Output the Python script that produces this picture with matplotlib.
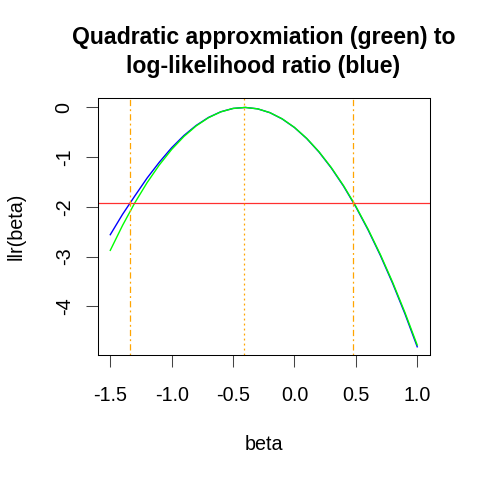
import matplotlib
matplotlib.use("Agg")
import matplotlib.pyplot as plt

plt.rcParams["font.family"] = ["Liberation Sans", "DejaVu Sans"]

# values
beta = [-1.5, -1.4, -1.3, -1.2, -1.1, -1.0, -0.9, -0.8, -0.7, -0.6, -0.5, -0.4, -0.3,
        -0.2, -0.1, 0.0, 0.1, 0.2, 0.3, 0.4, 0.5, 0.6, 0.7, 0.8, 0.9, 1.0]
llr = [-2.56, -2.15, -1.78, -1.42, -1.10, -0.81, -0.564, -0.361, -0.201, -0.087, -0.020,
       0.000, -0.028, -0.105, -0.231, -0.404, -0.626, -0.897, -1.217, -1.584, -2.000,
       -2.465, -2.978, -3.540, -4.152, -4.815]
quad = [-2.875, -2.373, -1.918, -1.512, -1.155, -0.845, -0.584, -0.371, -0.206, -0.089,
        -0.020, 0.000, -0.028, -0.104, -0.229, -0.401, -0.622, -0.891, -1.209, -1.574,
        -1.988, -2.450, -2.960, -3.518, -4.125, -4.780]
cutoff = -1.92
ci_lower = -1.34
beta_hat = -0.408
ci_upper = 0.48

fig = plt.figure(figsize=(4.8, 4.8), dpi=100)
ax = fig.add_axes([98 / 480, 1 - 354.5 / 480, 331.5 / 480, 256.5 / 480])

ax.plot(beta, llr, color="blue", lw=1.0)
ax.plot(beta, quad, color="#00FF00", lw=1.0)
ax.axhline(cutoff, color="#FF3030", lw=0.9)
ax.axvline(ci_lower, color="orange", lw=0.9, ls=(0, (1.5, 2.5, 5, 2.5)))
ax.axvline(beta_hat, color="orange", lw=0.9, ls=(0, (1.5, 2.5)))
ax.axvline(ci_upper, color="orange", lw=0.9, ls=(0, (1.5, 2.5, 5, 2.5)))

ax.set_xlim(-1.6, 1.1)
ax.set_ylim(-4.97, 0.19)
ax.set_xticks([-1.5, -1.0, -0.5, 0.0, 0.5, 1.0])
ax.set_xticklabels(["-1.5", "-1.0", "-0.5", "0.0", "0.5", "1.0"])
ax.set_yticks([0, -1, -2, -3, -4])
ax.set_yticklabels(["0", "-1", "-2", "-3", "-4"], rotation=90, va="center")
ax.tick_params(length=8.5, width=0.75, color="#444444", labelsize=14.2)
ax.tick_params(axis="x", pad=14)
ax.tick_params(axis="y", pad=9)
for s in ax.spines.values():
    s.set_linewidth(0.75)

ax.set_xlabel("beta", fontsize=14.2, labelpad=22)
ax.set_ylabel("llr(beta)", fontsize=14.2, labelpad=21)

fig.text(0.549, 1 - 44 / 480, "Quadratic approxmiation (green) to", ha="center",
         va="baseline", fontsize=16.6, fontweight="bold")
fig.text(0.549, 1 - 73.5 / 480, "log-likelihood ratio (blue)", ha="center",
         va="baseline", fontsize=16.6, fontweight="bold")

fig.savefig("out.png", dpi=100)
